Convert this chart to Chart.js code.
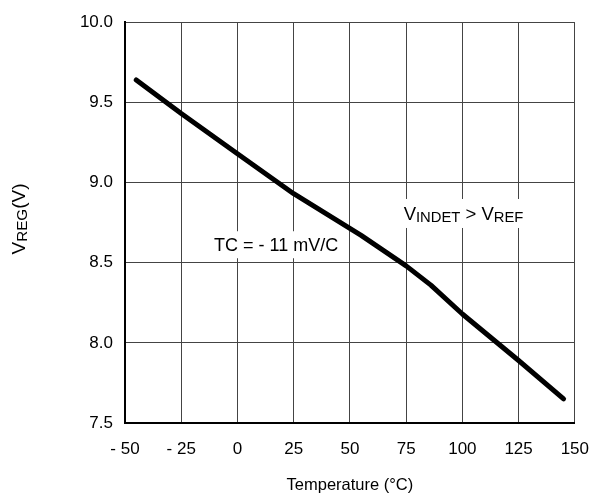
<!DOCTYPE html>
<html>
<head>
<meta charset="utf-8">
<script src="https://cdn.jsdelivr.net/npm/chart.js@4"></script>
<style>
  body { margin: 0; background: #fff; }
  #wrap { width: 605px; height: 498px; }
</style>
</head>
<body>
<div id="wrap"><canvas id="myChart" width="605" height="498"></canvas></div>
<script>
// datos
const temperaturas = [-45, -25, 0, 25, 55, 75, 86, 100, 125, 145];
const vreg = [9.64, 9.43, 9.18, 8.93, 8.67, 8.48, 8.36, 8.18, 7.89, 7.65];
const xTicks = [-50, -25, 0, 25, 50, 75, 100, 125, 150];
const yTicks = [7.5, 8.0, 8.5, 9.0, 9.5, 10.0];

const fuente = "'Liberation Sans', Arial, sans-serif";

// texto con subindices, y = centro de las mayusculas
function textoConSub(ctx, partes, x, y, size) {
    let cx = x;
    const base = y + size * 0.36;
    ctx.textBaseline = "alphabetic";
    for (const p of partes) {
        const s = p.sub ? size * 0.8 : size;
        ctx.font = s + "px " + fuente;
        ctx.fillText(p.t, cx, p.sub ? base + size * 0.12 : base);
        cx += ctx.measureText(p.t).width;
    }
    return cx - x;
}

function anchoTexto(ctx, partes, size) {
    let w = 0;
    for (const p of partes) {
        ctx.font = (p.sub ? size * 0.8 : size) + "px " + fuente;
        w += ctx.measureText(p.t).width;
    }
    return w;
}

const etiquetas = {
    id: "etiquetas",
    beforeDatasetsDraw(chart) {
        const ctx = chart.ctx;
        const xs = chart.scales.x, ys = chart.scales.y;
        ctx.save();

        // TC = - 11 mV/C
        const tc = [{ t: "TC = - 11 mV/C" }];
        let w = anchoTexto(ctx, tc, 18);
        let px = xs.getPixelForValue(17.2) - w / 2;
        let py = ys.getPixelForValue(8.615);
        ctx.fillStyle = "#fff";
        ctx.fillRect(px - 4, py - 13, w + 8, 27);
        ctx.fillStyle = "#000";
        textoConSub(ctx, tc, px, py, 18);

        // VINDET > VREF
        const vin = [{ t: "V" }, { t: "INDET", sub: true }, { t: " > V" }, { t: "REF", sub: true }];
        w = anchoTexto(ctx, vin, 18.5);
        px = xs.getPixelForValue(73.9);
        py = ys.getPixelForValue(8.81);
        ctx.fillStyle = "#fff";
        ctx.fillRect(px - 4, py - 14, w + 8, 29);
        ctx.fillStyle = "#000";
        textoConSub(ctx, vin, px, py, 18.5);
        ctx.restore();
    },
    afterDraw(chart) {
        const ctx = chart.ctx;
        ctx.save();
        const partes = [{ t: "V" }, { t: "REG", sub: true }, { t: "(V)" }];
        const w = anchoTexto(ctx, partes, 19);
        ctx.translate(18, 219);
        ctx.rotate(-Math.PI / 2);
        ctx.fillStyle = "#000";
        textoConSub(ctx, partes, -w / 2, 0, 19);
        ctx.restore();
    }
};

const config = {
    type: "line",
    data: {
        datasets: [{
            data: temperaturas.map((t, i) => ({ x: t, y: vreg[i] })),
            borderColor: "#000",
            borderWidth: 5,
            borderCapStyle: "round",
            borderJoinStyle: "round",
            pointRadius: 0,
            tension: 0
        }]
    },
    options: {
        responsive: false,
        animation: false,
        layout: { padding: { left: 0, right: 16, top: 18, bottom: 0 } },
        plugins: { legend: { display: false }, tooltip: { enabled: false } },
        scales: {
            x: {
                type: "linear",
                min: -50, max: 150,
                afterBuildTicks: (s) => { s.ticks = xTicks.map(v => ({ value: v })); },
                afterFit: (s) => { s.height = 75; },
                grid: { color: "#444", lineWidth: 1, drawTicks: false },
                border: { color: "#000", width: 2 },
                ticks: {
                    color: "#000", padding: 16,
                    font: { family: fuente, size: 17 },
                    maxRotation: 0,
                    callback: (v) => v < 0 ? "- " + Math.abs(v) : String(v)
                },
                title: {
                    display: true, text: "Temperature (°C)", color: "#000",
                    font: { family: fuente, size: 16.5 },
                    padding: { top: 10, bottom: 3 }
                }
            },
            y: {
                min: 7.5, max: 10,
                afterBuildTicks: (s) => { s.ticks = yTicks.map(v => ({ value: v })); },
                afterFit: (s) => { s.width = 125; },
                grid: { color: "#444", lineWidth: 1, drawTicks: false },
                border: { color: "#000", width: 2 },
                ticks: {
                    color: "#000", padding: 12,
                    font: { family: fuente, size: 17 },
                    callback: (v) => v.toFixed(1)
                }
            }
        }
    },
    plugins: [etiquetas]
};

new Chart(document.getElementById("myChart"), config);
</script>
</body>
</html>
